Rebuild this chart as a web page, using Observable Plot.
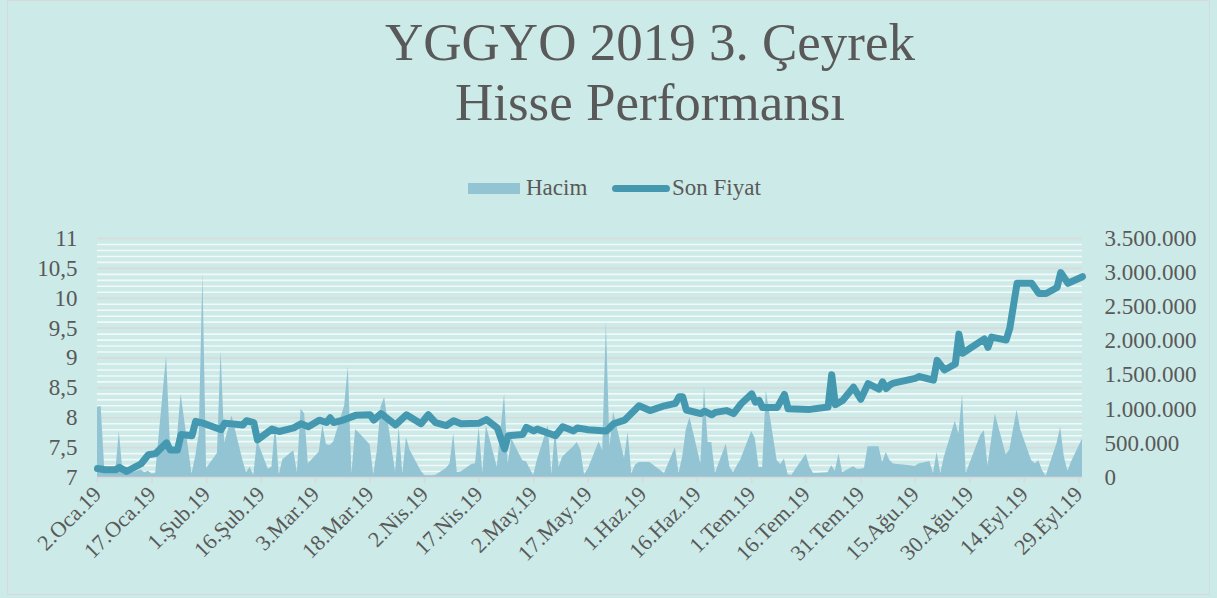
<!DOCTYPE html>
<html>
<head>
<meta charset="utf-8">
<script src="https://cdn.jsdelivr.net/npm/d3@7"></script>
<script src="https://cdn.jsdelivr.net/npm/@observablehq/plot@0.6"></script>
<style>
  html, body { margin: 0; padding: 0; background: #cceae7; }
  #chart, #chart * { font-family: "Liberation Serif", "Times New Roman", serif !important; }
  #chart { position: relative; width: 1217px; height: 598px; background: #cceae7; overflow: hidden; color: #595959; }
  #frame { position: absolute; left: 7px; top: 0px; width: 1203px; height: 595px; border: 1px solid #d9d9d9; box-sizing: border-box; pointer-events: none; }
  #title { position: absolute; left: 0; top: 12px; width: 1300px; text-align: center; font-size: 53px; line-height: 60px; }
  #legend { position: absolute; top: 176px; left: 0; width: 1217px; height: 24px; font-size: 23px; }
  .lg { position: absolute; top: 0; line-height: 24px; }
  #plot { position: absolute; left: 0; top: 200px; }
  #plot svg text { font-family: "Liberation Serif", "Times New Roman", serif !important; }
</style>
</head>
<body>
<div id="chart">
  <div id="title">YGGYO 2019 3. Çeyrek<br>Hisse Performansı</div>
  <div id="legend">
    <div style="position:absolute;left:468px;top:7px;width:52px;height:11px;background:#93c4d4"></div>
    <div class="lg" style="left:526px">Hacim</div>
    <div style="position:absolute;left:612px;top:9px;width:58px;height:7px;border-radius:4px;background:#4499b1"></div>
    <div class="lg" style="left:672px">Son Fiyat</div>
  </div>
  <div id="plot"></div>
  <div id="frame"></div>
</div>
<script>
// Son Fiyat (closing price)
const priceDates = [
 "2019-01-02","2019-01-04","2019-01-07","2019-01-08","2019-01-10","2019-01-14","2019-01-16","2019-01-18",
 "2019-01-21","2019-01-22","2019-01-24","2019-01-25","2019-01-28","2019-01-29","2019-01-31","2019-02-05",
 "2019-02-06","2019-02-11","2019-02-12","2019-02-14","2019-02-15","2019-02-19","2019-02-21","2019-02-25",
 "2019-02-27","2019-03-01","2019-03-04","2019-03-06","2019-03-07","2019-03-08","2019-03-11","2019-03-14",
 "2019-03-18","2019-03-19","2019-03-21","2019-03-25","2019-03-28","2019-04-01","2019-04-03","2019-04-05",
 "2019-04-08","2019-04-10","2019-04-12","2019-04-17","2019-04-19","2019-04-22","2019-04-24","2019-04-25",
 "2019-04-29","2019-04-30","2019-05-02","2019-05-03","2019-05-08","2019-05-10","2019-05-13","2019-05-14",
 "2019-05-17","2019-05-22","2019-05-24","2019-05-27","2019-05-31","2019-06-03","2019-06-07","2019-06-10",
 "2019-06-11","2019-06-12","2019-06-13","2019-06-17","2019-06-18","2019-06-20","2019-06-21","2019-06-24",
 "2019-06-26","2019-06-28","2019-07-01","2019-07-02","2019-07-03","2019-07-04","2019-07-08","2019-07-10",
 "2019-07-11","2019-07-17","2019-07-22","2019-07-23","2019-07-24","2019-07-26","2019-07-29","2019-07-31",
 "2019-08-02","2019-08-05","2019-08-06","2019-08-07","2019-08-08","2019-08-09","2019-08-15","2019-08-16",
 "2019-08-20","2019-08-21","2019-08-23","2019-08-26","2019-08-27","2019-08-28","2019-09-03","2019-09-04",
 "2019-09-05","2019-09-09","2019-09-10","2019-09-12","2019-09-13","2019-09-16","2019-09-18","2019-09-20",
 "2019-09-23","2019-09-24","2019-09-26","2019-09-30"
];
const priceValues = [
 7.15,7.13,7.13,7.17,7.10,7.23,7.38,7.40,
 7.58,7.46,7.46,7.72,7.70,7.94,7.91,7.80,
 7.91,7.88,7.95,7.92,7.63,7.81,7.77,7.83,
 7.90,7.85,7.96,7.92,8.00,7.92,7.97,8.04,
 8.05,7.96,8.07,7.88,8.05,7.90,8.05,7.92,
 7.87,7.95,7.90,7.91,7.97,7.83,7.48,7.70,
 7.72,7.84,7.78,7.81,7.70,7.85,7.78,7.83,
 7.80,7.78,7.90,7.96,8.20,8.12,8.20,8.24,
 8.35,8.35,8.13,8.07,8.11,8.05,8.09,8.12,
 8.07,8.23,8.40,8.26,8.29,8.17,8.17,8.39,
 8.15,8.14,8.18,8.72,8.22,8.29,8.51,8.31,
 8.57,8.48,8.60,8.49,8.55,8.58,8.66,8.69,
 8.63,8.96,8.80,8.90,9.40,9.08,9.32,9.18,
 9.35,9.30,9.50,10.25,10.25,10.25,10.08,10.08,
 10.18,10.43,10.25,10.36
];

// Hacim (volume)
const volumeDates = [
 "2019-01-02","2019-01-03","2019-01-04","2019-01-07","2019-01-08","2019-01-09","2019-01-10","2019-01-11",
 "2019-01-14","2019-01-15","2019-01-16","2019-01-17","2019-01-18","2019-01-21","2019-01-22","2019-01-23",
 "2019-01-24","2019-01-25","2019-01-28","2019-01-29","2019-01-30","2019-01-31","2019-02-01","2019-02-04",
 "2019-02-05","2019-02-06","2019-02-07","2019-02-08","2019-02-11","2019-02-12","2019-02-13","2019-02-14",
 "2019-02-15","2019-02-18","2019-02-19","2019-02-20","2019-02-21","2019-02-22","2019-02-25","2019-02-26",
 "2019-02-27","2019-02-28","2019-03-01","2019-03-04","2019-03-05","2019-03-06","2019-03-07","2019-03-08",
 "2019-03-11","2019-03-12","2019-03-13","2019-03-14","2019-03-15","2019-03-18","2019-03-19","2019-03-20",
 "2019-03-21","2019-03-22","2019-03-25","2019-03-26","2019-03-27","2019-03-28","2019-03-29","2019-04-01",
 "2019-04-02","2019-04-03","2019-04-04","2019-04-05","2019-04-08","2019-04-09","2019-04-10","2019-04-11",
 "2019-04-12","2019-04-15","2019-04-16","2019-04-17","2019-04-18","2019-04-19","2019-04-22","2019-04-24",
 "2019-04-25","2019-04-26","2019-04-29","2019-04-30","2019-05-02","2019-05-03","2019-05-06","2019-05-07",
 "2019-05-08","2019-05-09","2019-05-10","2019-05-13","2019-05-14","2019-05-15","2019-05-16","2019-05-17",
 "2019-05-20","2019-05-21","2019-05-22","2019-05-23","2019-05-24","2019-05-27","2019-05-28","2019-05-29",
 "2019-05-30","2019-05-31","2019-06-03","2019-06-07","2019-06-10","2019-06-11","2019-06-12","2019-06-13",
 "2019-06-14","2019-06-17","2019-06-18","2019-06-19","2019-06-20","2019-06-21","2019-06-24","2019-06-25",
 "2019-06-26","2019-06-27","2019-06-28","2019-07-01","2019-07-02","2019-07-03","2019-07-04","2019-07-05",
 "2019-07-08","2019-07-09","2019-07-10","2019-07-11","2019-07-12","2019-07-16","2019-07-17","2019-07-18",
 "2019-07-19","2019-07-22","2019-07-23","2019-07-24","2019-07-25","2019-07-26","2019-07-29","2019-07-30",
 "2019-07-31","2019-08-01","2019-08-02","2019-08-05","2019-08-06","2019-08-07","2019-08-08","2019-08-09",
 "2019-08-15","2019-08-16","2019-08-19","2019-08-20","2019-08-21","2019-08-22","2019-08-23","2019-08-26",
 "2019-08-27","2019-08-28","2019-08-29","2019-09-02","2019-09-03","2019-09-04","2019-09-05","2019-09-06",
 "2019-09-09","2019-09-10","2019-09-11","2019-09-12","2019-09-13","2019-09-16","2019-09-17","2019-09-18",
 "2019-09-19","2019-09-20","2019-09-23","2019-09-24","2019-09-25","2019-09-26","2019-09-27","2019-09-30"
];
const volumeValues = [
 1030000,1040000,120000,70000,670000,80000,100000,60000,
 110000,70000,90000,50000,60000,1780000,550000,350000,
 590000,1220000,50000,300000,640000,2990000,130000,350000,
 1860000,500000,700000,905000,250000,70000,150000,30000,
 540000,122000,150000,783000,40000,260000,390000,70000,
 1000000,930000,200000,370000,760000,480000,470000,520000,
 1050000,1620000,50000,700000,650000,480000,40000,390000,
 1030000,1170000,80000,734000,50000,587000,400000,100000,
 30000,25000,25000,30000,130000,200000,646000,73000,
 80000,190000,200000,734000,70000,758000,150000,1220000,
 200000,563000,245000,230000,30000,250000,758000,40000,
 700000,150000,300000,450000,514000,400000,40000,120000,
 520000,390000,2270000,450000,954000,280000,660000,50000,
 180000,220000,220000,60000,440000,60000,300000,700000,
 880000,200000,1320000,514000,514000,60000,490000,150000,
 70000,170000,260000,675000,563000,147000,147000,1270000,
 245000,190000,270000,40000,30000,340000,150000,60000,
 60000,70000,171000,90000,343000,70000,157000,120000,
 120000,130000,450000,450000,220000,367000,250000,196000,
 165000,196000,235000,60000,367000,60000,300000,822000,
 636000,1210000,60000,620000,685000,170000,550000,930000,
 333000,401000,700000,985000,700000,250000,200000,245000,
 100000,20000,500000,734000,300000,90000,230000,563000
];

// Axes
const xTickDates = ["2019-01-02","2019-01-17","2019-02-01","2019-02-16","2019-03-03","2019-03-18","2019-04-02",
 "2019-04-17","2019-05-02","2019-05-17","2019-06-01","2019-06-16","2019-07-01","2019-07-16","2019-07-31",
 "2019-08-15","2019-08-30","2019-09-14","2019-09-29"];
const xTickLabels = ["2.Oca.19","17.Oca.19","1.Şub.19","16.Şub.19","3.Mar.19","18.Mar.19","2.Nis.19",
 "17.Nis.19","2.May.19","17.May.19","1.Haz.19","16.Haz.19","1.Tem.19","16.Tem.19","31.Tem.19",
 "15.Ağu.19","30.Ağu.19","14.Eyl.19","29.Eyl.19"];
const priceTicks = [7, 7.5, 8, 8.5, 9, 9.5, 10, 10.5, 11];
const volumeTicks = [0, 500000, 1000000, 1500000, 2000000, 2500000, 3000000, 3500000];

const PMIN = 7, PMAX = 11, VMAX = 3500000;
const toY = v => PMIN + v / VMAX * (PMAX - PMIN);
const fromY = y => Math.round((y - PMIN) / (PMAX - PMIN) * VMAX / 500000) * 500000;
const parse = d3.utcParse("%Y-%m-%d");

const price = priceDates.map((d, i) => ({date: parse(d), value: priceValues[i]}));
const volume = volumeDates.map((d, i) => ({date: parse(d), value: volumeValues[i]}));
const xTicks = xTickDates.map(parse);
const labelByTime = new Map(xTicks.map((d, i) => [+d, xTickLabels[i]]));
const trNum = d3.formatLocale({decimal: ",", thousands: ".", grouping: [3], currency: ["", ""]}).format(",.0f");

const minorTicks = d3.range(71, 111).map(k => k / 10).filter(v => Math.round(v * 10) % 5 !== 0);

const chart = Plot.plot({
  width: 1217,
  height: 398,
  marginLeft: 97,
  marginRight: 135,
  marginTop: 38,
  marginBottom: 121,
  style: {background: "transparent", fontFamily: "'Liberation Serif', 'Times New Roman', serif", fontSize: "23px", color: "#595959", overflow: "visible"},
  x: {type: "utc", domain: [parse("2019-01-02"), parse("2019-09-30")]},
  y: {domain: [PMIN, PMAX]},
  marks: [
    Plot.ruleY(minorTicks, {stroke: "#f3f8f8", strokeWidth: 1.6}),
    Plot.ruleY(priceTicks.slice(1), {stroke: "#dadada", strokeWidth: 1.6}),
    Plot.areaY(volume, {x: "date", y1: PMIN, y2: d => toY(d.value), fill: "#93c4d4"}),
    Plot.ruleY([PMIN], {stroke: "#d9d9d9", strokeWidth: 1.5}),
    Plot.line(price, {x: "date", y: "value", stroke: "#4499b1", strokeWidth: 7, strokeLinejoin: "round", strokeLinecap: "round"}),
    Plot.axisY({anchor: "left", ticks: priceTicks, tickSize: 0, tickPadding: 20, label: null,
      tickFormat: d => String(d).replace(".", ","), fontSize: 23}),
    Plot.axisY({anchor: "right", ticks: volumeTicks.map(toY), tickSize: 0, tickPadding: 22, label: null,
      tickFormat: d => trNum(fromY(d)), fontSize: 23}),
    Plot.axisX({ticks: xTicks, tickFormat: d => labelByTime.get(+d), tickRotate: -45, tickSize: 6,
      tickPadding: 7, stroke: "#d9d9d9", strokeWidth: 1.5, label: null, fontSize: 22})
  ]
});
document.getElementById("plot").appendChild(chart);
</script>
</body>
</html>
